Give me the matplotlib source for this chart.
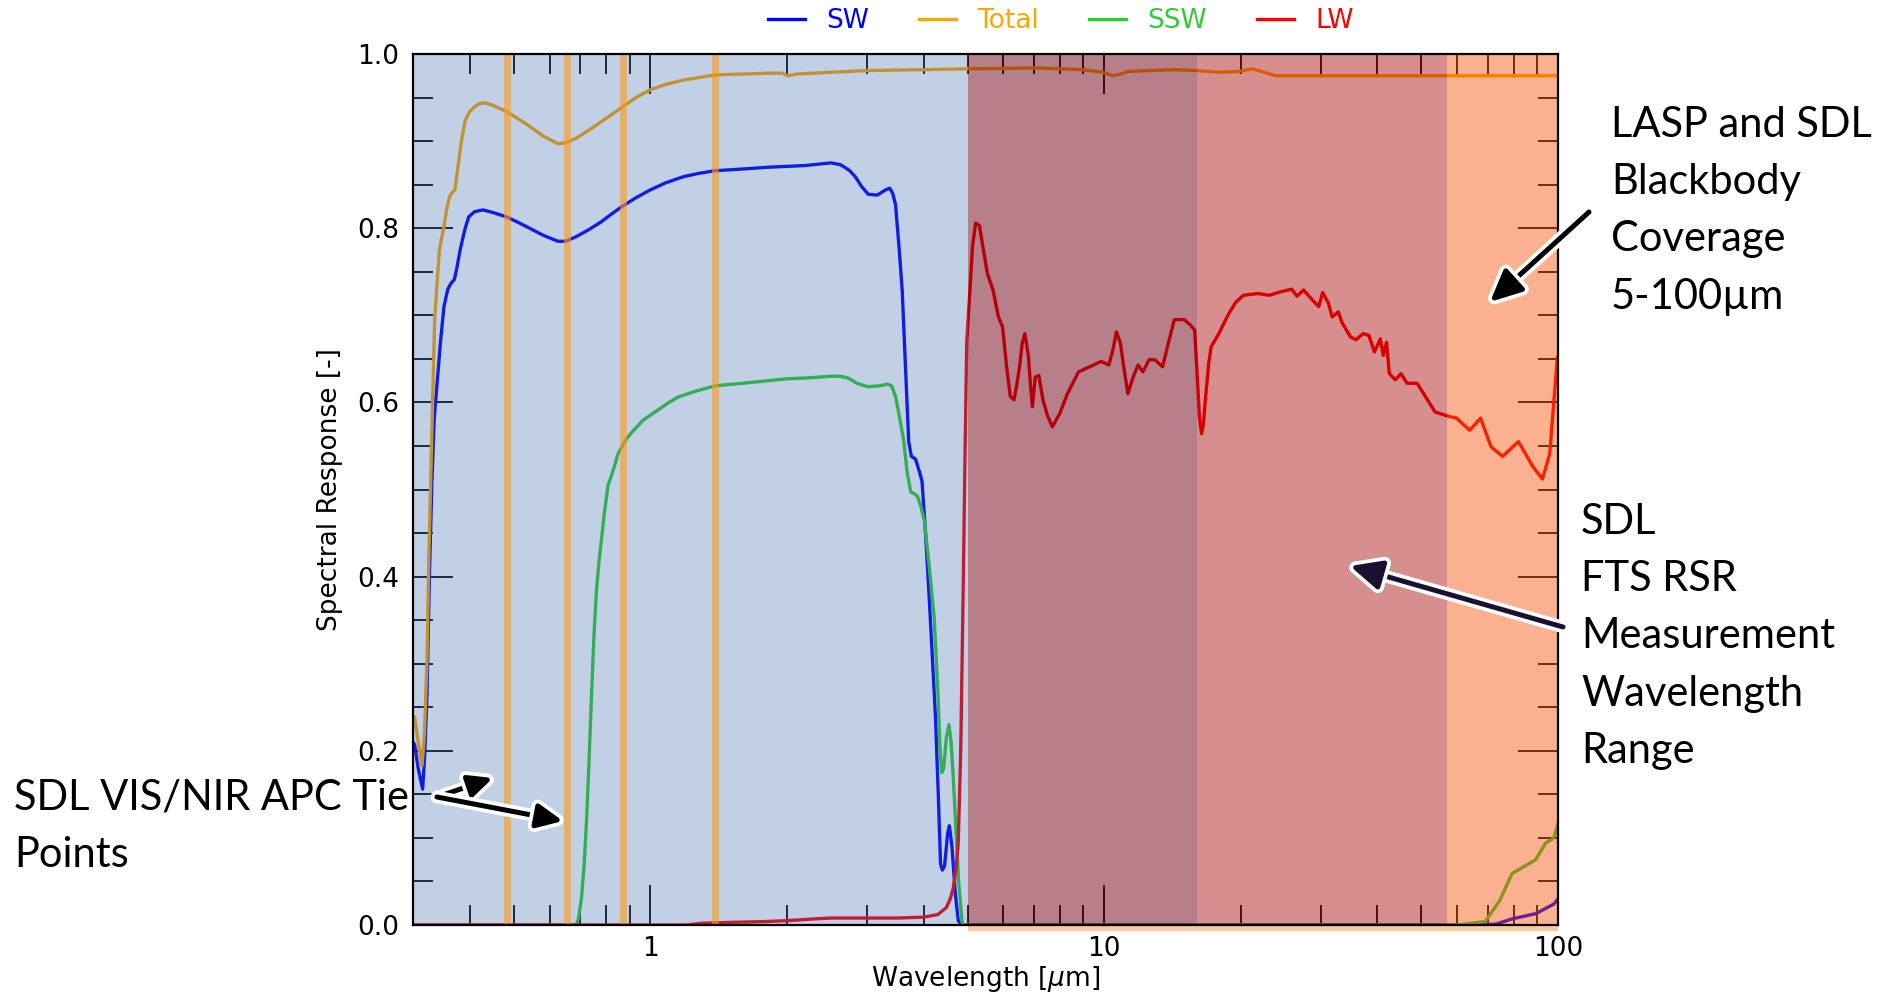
import numpy as np
import matplotlib
matplotlib.use("Agg")
import matplotlib.pyplot as plt
from matplotlib.ticker import MultipleLocator, FixedLocator, LogLocator, FuncFormatter, NullFormatter
import matplotlib.patheffects as pe

# ---------------- data ----------------
sw_wl = [0.300, 0.3025, 0.308, 0.315, 0.318, 0.322, 0.326, 0.330, 0.334, 0.339, 0.345, 0.351,
         0.358, 0.364, 0.370, 0.375, 0.381, 0.390, 0.398, 0.410, 0.428, 0.45, 0.482, 0.51,
         0.542, 0.58, 0.626, 0.65, 0.685, 0.73, 0.778, 0.82, 0.867, 0.93, 1.0, 1.08, 1.18,
         1.28, 1.39, 1.6, 1.82, 2.0, 2.2, 2.5, 2.62, 2.68, 2.75, 2.83, 2.92, 3.02, 3.16, 3.30,
         3.37, 3.42, 3.47, 3.53, 3.59, 3.65, 3.71, 3.76, 3.84, 3.92, 3.97, 4.04, 4.11, 4.18,
         4.25, 4.31, 4.36, 4.40, 4.45, 4.52, 4.56, 4.62, 4.70, 4.77, 4.85, 10.0, 60.0, 73.0,
         79.2, 89.3, 93.9, 97.9, 100.0]
sw_val = [0.21, 0.207, 0.18, 0.156, 0.19, 0.263, 0.40, 0.505, 0.58, 0.622, 0.67, 0.710,
          0.73, 0.737, 0.741, 0.755, 0.775, 0.798, 0.813, 0.819, 0.821, 0.818, 0.813, 0.807,
          0.800, 0.792, 0.785, 0.785, 0.790, 0.798, 0.807, 0.816, 0.825, 0.835, 0.844, 0.852,
          0.859, 0.863, 0.866, 0.868, 0.870, 0.871, 0.872, 0.875, 0.873, 0.870, 0.866, 0.859,
          0.848, 0.839, 0.838, 0.844, 0.846, 0.840, 0.827, 0.78, 0.728, 0.64, 0.555, 0.538,
          0.535, 0.520, 0.509, 0.45, 0.382, 0.31, 0.238, 0.15, 0.070, 0.063, 0.068, 0.105,
          0.114, 0.09, 0.036, 0.005, 0.0, 0.0, 0.0, 0.001, 0.007, 0.013, 0.019, 0.024, 0.03]

total_wl = [0.300, 0.3025, 0.308, 0.314, 0.318, 0.322, 0.325, 0.328, 0.332, 0.335, 0.343,
            0.351, 0.356, 0.361, 0.366, 0.371, 0.377, 0.384, 0.391, 0.400, 0.409, 0.420,
            0.432, 0.45, 0.482, 0.51, 0.542, 0.58, 0.626, 0.65, 0.685, 0.73, 0.778, 0.82,
            0.867, 0.93, 1.0, 1.08, 1.18, 1.28, 1.39, 1.6, 1.82, 1.95, 2.01, 2.1, 2.5, 3.0,
            4.0, 5.02, 7.1, 8.96, 9.96, 10.45, 10.9, 11.27, 14.28, 16.0, 18.0, 19.8, 21.2,
            22.2, 23.9, 100.0]
total_val = [0.24, 0.239, 0.21, 0.183, 0.22, 0.303, 0.42, 0.505, 0.62, 0.698, 0.775,
             0.802, 0.822, 0.836, 0.841, 0.844, 0.871, 0.902, 0.924, 0.934, 0.939, 0.943,
             0.944, 0.941, 0.934, 0.926, 0.917, 0.906, 0.897, 0.898, 0.903, 0.912, 0.922,
             0.930, 0.939, 0.950, 0.959, 0.965, 0.970, 0.973, 0.976, 0.977, 0.978, 0.978,
             0.975, 0.977, 0.979, 0.981, 0.982, 0.983, 0.984, 0.982, 0.979, 0.975, 0.977,
             0.980, 0.982, 0.981, 0.979, 0.980, 0.983, 0.980, 0.975, 0.975]

ssw_wl = [0.3, 0.68, 0.687, 0.695, 0.705, 0.715, 0.724, 0.733, 0.742, 0.751, 0.761, 0.771,
          0.781, 0.793, 0.807, 0.82, 0.835, 0.849, 0.883, 0.908, 0.966, 1.005, 1.10, 1.15,
          1.26, 1.39, 1.6, 1.99, 2.2, 2.5, 2.62, 2.73, 2.85, 3.01, 3.2, 3.33, 3.40, 3.47,
          3.55, 3.62, 3.68, 3.75, 3.82, 3.88, 3.95, 4.02, 4.12, 4.22, 4.30, 4.35, 4.39, 4.43,
          4.49, 4.55, 4.60, 4.65, 4.70, 4.78, 4.87, 60.0, 69.1, 74.4, 79.2, 89.3, 93.9,
          97.9, 100.0]
ssw_val = [0.0, 0.0, 0.0, 0.008, 0.030, 0.07, 0.122, 0.19, 0.263, 0.33, 0.384, 0.418,
           0.444, 0.475, 0.505, 0.515, 0.528, 0.541, 0.557, 0.565, 0.580, 0.586, 0.600,
           0.606, 0.613, 0.619, 0.622, 0.627, 0.628, 0.630, 0.630, 0.628, 0.622, 0.618,
           0.619, 0.621, 0.619, 0.607, 0.58, 0.555, 0.52, 0.497, 0.495, 0.492, 0.480, 0.463,
           0.41, 0.354, 0.27, 0.20, 0.175, 0.18, 0.215, 0.230, 0.21, 0.17, 0.123, 0.05, 0.0,
           0.0, 0.004, 0.028, 0.059, 0.075, 0.094, 0.100, 0.116]

lw_wl = [0.3, 1.2, 1.3, 1.5, 1.8, 2.0, 2.3, 2.5, 3.0, 3.5, 4.0, 4.3, 4.49, 4.58, 4.65,
         4.72, 4.77, 4.83, 4.89, 4.94, 4.98, 5.06, 5.13, 5.21, 5.31, 5.42, 5.53, 5.69, 5.85,
         5.97, 6.1, 6.21, 6.33, 6.42, 6.51, 6.6, 6.69, 6.81, 6.88, 6.95, 7.05, 7.18, 7.33,
         7.5, 7.69, 7.98, 8.30, 8.78, 9.30, 9.85, 10.24, 10.45, 10.64, 10.86, 11.05, 11.28,
         11.6, 11.88, 12.17, 12.56, 12.93, 13.45, 13.85, 14.28, 15.02, 15.47, 15.83, 16.07,
         16.2, 16.39, 16.55, 16.71, 17.0, 17.21, 17.89, 18.82, 19.5, 20.27, 21.84, 23.13,
         24.5, 25.9, 26.6, 27.5, 28.6, 29.7, 30.3, 31.2, 31.8, 32.8, 33.4, 34.9, 35.9, 37.2,
         38.3, 39.4, 40.6, 41.2, 41.9, 42.5, 43.8, 45.1, 46.5, 48.9, 51.0, 53.6, 57.4, 59.7,
         63.9, 67.5, 71.2, 75.5, 81.8, 88.1, 92.4, 95.9, 99.7]
lw_val = [0.0, 0.0, 0.002, 0.003, 0.004, 0.005, 0.007, 0.008, 0.008, 0.008, 0.009, 0.012,
          0.02, 0.03, 0.042, 0.065, 0.094, 0.2, 0.382, 0.55, 0.67, 0.728, 0.78, 0.806, 0.803,
          0.775, 0.748, 0.729, 0.698, 0.687, 0.64, 0.607, 0.603, 0.62, 0.641, 0.668, 0.679,
          0.653, 0.62, 0.595, 0.629, 0.631, 0.603, 0.585, 0.572, 0.587, 0.610, 0.635, 0.641,
          0.647, 0.643, 0.660, 0.681, 0.668, 0.64, 0.610, 0.63, 0.643, 0.635, 0.649, 0.649,
          0.641, 0.668, 0.695, 0.695, 0.689, 0.683, 0.622, 0.585, 0.564, 0.575, 0.603, 0.645,
          0.664, 0.679, 0.702, 0.715, 0.723, 0.725, 0.723, 0.727, 0.730, 0.722, 0.729, 0.719,
          0.710, 0.726, 0.714, 0.698, 0.704, 0.692, 0.675, 0.672, 0.679, 0.677, 0.658, 0.673,
          0.654, 0.669, 0.633, 0.626, 0.633, 0.622, 0.622, 0.607, 0.589, 0.584, 0.582, 0.568,
          0.582, 0.549, 0.538, 0.555, 0.526, 0.512, 0.541, 0.652]

series_names = ["SW", "Total", "SSW", "LW"]
series_colors = ["blue", "orange", "limegreen", "red"]

tie_points = [0.483, 0.656, 0.871, 1.39]

# shaded wavelength ranges: (start, end, colour, alpha)
regions = [(0.3, 5.0, (55/255, 102/255, 172/255), 0.30),
           (5.0, 16.0, (113/255, 1/255, 21/255), 0.50),
           (16.0, 57.0, (168/255, 4/255, 6/255), 0.45),
           (57.0, 100.0, (248/255, 77/255, 0/255), 0.44)]

# ---------------- figure ----------------
W, H = 1888, 992
fig = plt.figure(figsize=(W / 100, H / 100), dpi=100)
ax = fig.add_axes([413 / W, 1 - 925 / H, (1558 - 413) / W, (925 - 54) / H])

lines = []
for wl, val, name, col in zip([sw_wl, total_wl, ssw_wl, lw_wl],
                              [sw_val, total_val, ssw_val, lw_val],
                              series_names, series_colors):
    ln, = ax.plot(wl, val, color=col, lw=2.4, label=name, zorder=2)
    lines.append(ln)

for x0, x1, c, a in regions:
    ax.axvspan(x0, x1, color=c, alpha=a, lw=0, zorder=3)
ax.axvspan(5.0, 100.0, ymin=-0.007, ymax=0.0, color=(252/255, 200/255, 160/255),
           lw=0, zorder=3, clip_on=False)

for tp in tie_points:
    ax.axvline(tp, ymin=0, ymax=0.996, color=(250/255, 154/255, 30/255), alpha=0.6,
               lw=5, zorder=4)

ax.set_xscale("log")
ax.set_xlim(0.3, 100)
ax.set_ylim(0, 1.0)
ax.xaxis.set_major_locator(FixedLocator([1, 10, 100]))
ax.xaxis.set_major_formatter(FuncFormatter(lambda v, p: f"{v:g}"))
ax.xaxis.set_minor_locator(LogLocator(base=10, subs=np.arange(2, 10)))
ax.xaxis.set_minor_formatter(NullFormatter())
ax.yaxis.set_major_locator(MultipleLocator(0.2))
ax.yaxis.set_minor_locator(MultipleLocator(0.05))
ax.yaxis.set_major_formatter(FuncFormatter(lambda v, p: f"{v:.1f}"))

ax.tick_params(which="both", direction="in", top=True, right=True, color="black",
               width=1.3, labelsize=19)
ax.tick_params(which="major", length=29)
ax.tick_params(which="minor", length=14.5)
ax.tick_params(axis="x", pad=8)
ax.tick_params(axis="y", pad=10)
for sp in ax.spines.values():
    sp.set_linewidth(1.6)
    sp.set_zorder(5)

ax.set_xlabel(r"Wavelength [$\mu$m]", fontsize=19, labelpad=1)
ax.set_ylabel("Spectral Response [-]", fontsize=19, labelpad=10)

fig.legend(handles=lines, loc="center", bbox_to_anchor=(1061 / W, 1 - 21 / H),
           ncol=4, frameon=False, fontsize=19, labelcolor="linecolor",
           handlelength=1.4, handletextpad=0.8, columnspacing=1.9)

# ---------------- annotations ----------------
afont = ["Lato", "DejaVu Sans"]
tkw = dict(family=afont, fontsize=30, va="top", ha="left", linespacing=1.62)
fig.text(1611 / W, 1 - 106 / H, "LASP and SDL\nBlackbody\nCoverage\n5-100\u00b5m", **tkw)
fig.text(1581 / W, 1 - 503 / H, "SDL\nFTS RSR\nMeasurement\nWavelength\nRange", **tkw)
fig.text(14 / W, 1 - 779 / H, "SDL VIS/NIR APC Tie\nPoints", **tkw)

glow = [pe.withStroke(linewidth=9, foreground="white")]
astyle = "-|>,head_length=0.6,head_width=0.28"
arrows = [((1589, 212), (1490, 302), "black", 32),
          ((1563, 627), (1350, 566), "#1c1030", 32),
          ((437, 797), (493, 778), "black", 24),
          ((437, 797), (563, 821), "black", 26)]
for (tx, ty), (hx, hy), col, ms in arrows:
    ax.annotate("", xy=(hx, H - hy), xytext=(tx, H - ty), xycoords="figure pixels",
                textcoords="figure pixels", annotation_clip=False,
                arrowprops=dict(arrowstyle=astyle, lw=3.6, color=col, mutation_scale=ms,
                                shrinkA=0, shrinkB=0, path_effects=glow),
                zorder=10)

fig.savefig("out.png", dpi=100)
